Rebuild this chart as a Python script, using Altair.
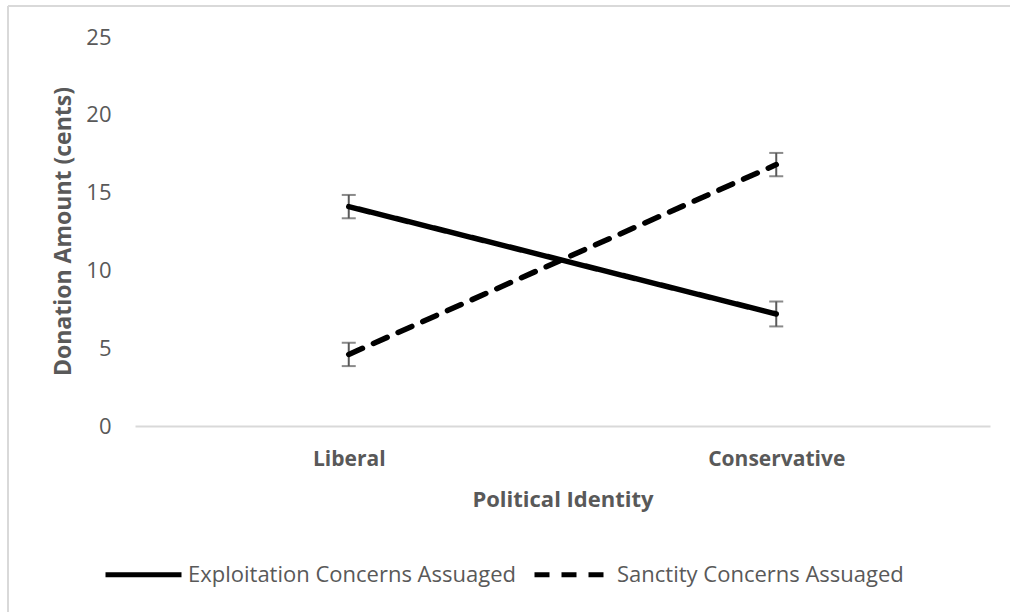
import altair as alt
import pandas as pd

# Group means and error-bar half-widths (cents)
identity = ["Liberal", "Conservative"]
conditions = ["Exploitation Concerns Assuaged", "Sanctity Concerns Assuaged"]
exploitation_mean = [14.1, 7.2]
exploitation_err = [0.75, 0.8]
sanctity_mean = [4.6, 16.8]
sanctity_err = [0.75, 0.75]

rows = []
for cond, means, errs in [
    (conditions[0], exploitation_mean, exploitation_err),
    (conditions[1], sanctity_mean, sanctity_err),
]:
    for g, m, e in zip(identity, means, errs):
        rows.append({"identity": g, "condition": cond, "mean": m,
                     "lo": m - e, "hi": m + e})
df = pd.DataFrame(rows)

FONT = "Open Sans"
GRAY = "#595959"

x_scale = alt.Scale(type="point", padding=0.5)
x_enc = alt.X(
    "identity:N",
    sort=identity,
    scale=x_scale,
    axis=alt.Axis(
        title="Political Identity",
        labelAngle=0, labelAlign="center",
        labelFont=FONT, labelFontSize=21, labelFontWeight="bold", labelColor=GRAY,
        labelPadding=33,
        titleFont=FONT, titleFontSize=22, titleFontWeight="bold", titleColor=GRAY,
        titlePadding=20,
        ticks=False, domainColor="#d9d9d9", domainWidth=2,
    ),
)
y_scale = alt.Scale(domain=[0, 25])

lines = alt.Chart(df).mark_line(strokeWidth=5.5, color="black", strokeCap="round").encode(
    x=x_enc,
    y=alt.Y(
        "mean:Q",
        scale=y_scale,
        axis=alt.Axis(
            title="Donation Amount (cents)",
            values=[0, 5, 10, 15, 20, 25],
            grid=False, ticks=False, domain=False,
            labelFont=FONT, labelFontSize=22, labelColor=GRAY, labelPadding=24,
            titleFont=FONT, titleFontSize=23, titleFontWeight="bold", titleColor=GRAY,
            titleX=-72, titleY=194, titleAngle=-90, titleBaseline="middle",
        ),
    ),
    strokeDash=alt.StrokeDash(
        "condition:N",
        scale=alt.Scale(domain=conditions, range=[[1, 0], [15, 12]]),
        legend=alt.Legend(
            title=None, orient="none", legendX=-32, legendY=497,
            direction="horizontal",
            symbolType="stroke", symbolSize=5776, symbolStrokeWidth=5,
            symbolStrokeColor="black",
            labelFont=FONT, labelFontSize=22, labelColor=GRAY, labelOffset=4,
            labelLimit=400, columnPadding=8,
        ),
    ),
)

bars = alt.Chart(df).mark_rule(color=GRAY, strokeWidth=2).encode(
    x=alt.X("identity:N", sort=identity, scale=x_scale),
    y=alt.Y("lo:Q", scale=y_scale),
    y2="hi:Q",
)
caps_lo = alt.Chart(df).mark_tick(color=GRAY, thickness=2, size=14, orient="horizontal").encode(
    x=alt.X("identity:N", sort=identity, scale=x_scale),
    y=alt.Y("lo:Q", scale=y_scale),
)
caps_hi = alt.Chart(df).mark_tick(color=GRAY, thickness=2, size=14, orient="horizontal").encode(
    x=alt.X("identity:N", sort=identity, scale=x_scale),
    y=alt.Y("hi:Q", scale=y_scale),
)

# Light frame along the chart's top and left edges
frame_top = alt.Chart(df).mark_rule(color="#d9d9d9", strokeWidth=2).encode(
    x=alt.value(-127), x2=alt.value(900), y=alt.value(-31)
)
frame_left = alt.Chart(df).mark_rule(color="#d9d9d9", strokeWidth=2).encode(
    x=alt.value(-127), y=alt.value(-31), y2=alt.value(600)
)

chart = (
    alt.layer(frame_top, frame_left, bars, caps_lo, caps_hi, lines)
    .properties(
        width=855, height=389,
        autosize=alt.AutoSizeParams(type="none"),
        padding={"left": 135, "top": 37, "right": 20, "bottom": 186},
        background="white",
    )
    .configure_view(stroke=None)
)

chart.save("out.html", embed_options={"renderer": "svg", "actions": False})
